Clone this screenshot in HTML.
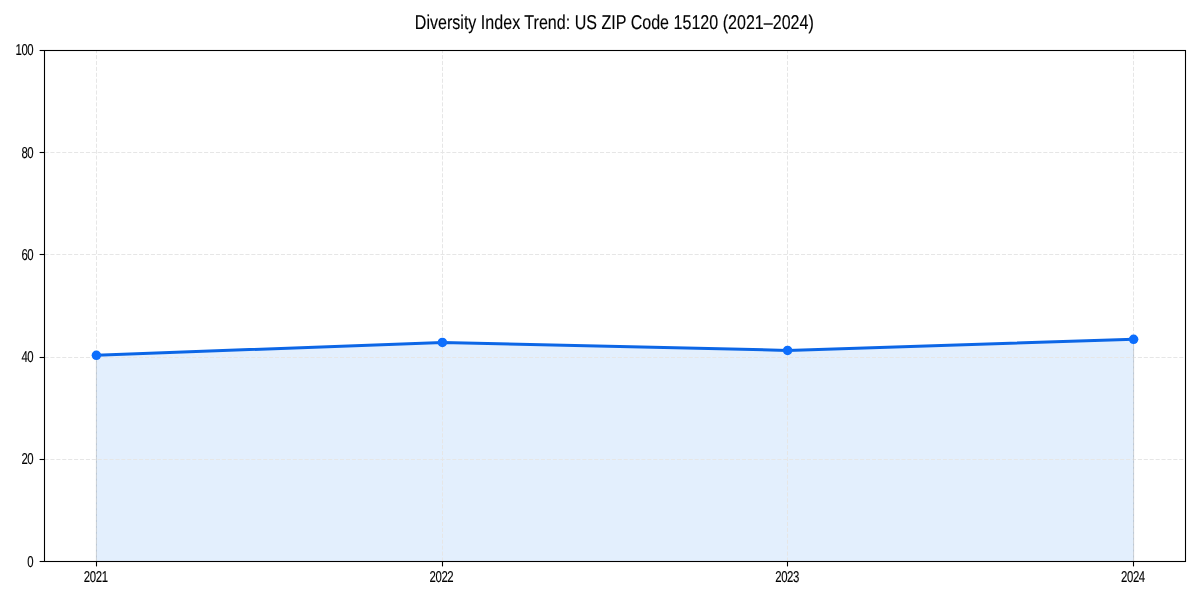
<!DOCTYPE html>
<html><head><meta charset="utf-8"><style>
html,body{margin:0;padding:0;background:#fff;width:1200px;height:600px;overflow:hidden}
svg{display:block}
text{font-family:"Liberation Sans",sans-serif;fill:#000}
g.t{opacity:0.999;text-rendering:geometricPrecision}
</style></head><body>
<svg width="1200" height="600" viewBox="0 0 1200 600">
<polygon points="96.40,561.5 96.40,355.36 442.40,342.38 787.60,350.41 1133.60,339.32 1133.60,561.5" fill="rgba(13,110,240,0.113)" stroke="rgba(60,80,100,0.16)" stroke-width="1.1"/>
<line x1="44.5" y1="561.5" x2="1185.5" y2="561.5" stroke="#e6e6e6" stroke-width="1" stroke-dasharray="4.1 1.81"/>
<line x1="44.5" y1="459.5" x2="1185.5" y2="459.5" stroke="#e6e6e6" stroke-width="1" stroke-dasharray="4.1 1.81"/>
<line x1="44.5" y1="357.5" x2="1185.5" y2="357.5" stroke="#e6e6e6" stroke-width="1" stroke-dasharray="4.1 1.81"/>
<line x1="44.5" y1="254.5" x2="1185.5" y2="254.5" stroke="#e6e6e6" stroke-width="1" stroke-dasharray="4.1 1.81"/>
<line x1="44.5" y1="152.5" x2="1185.5" y2="152.5" stroke="#e6e6e6" stroke-width="1" stroke-dasharray="4.1 1.81"/>
<line x1="44.5" y1="50.5" x2="1185.5" y2="50.5" stroke="#e6e6e6" stroke-width="1" stroke-dasharray="4.1 1.81"/>
<line x1="96.5" y1="561.5" x2="96.5" y2="50.5" stroke="#e6e6e6" stroke-width="1" stroke-dasharray="4.1 1.81"/>
<line x1="442.5" y1="561.5" x2="442.5" y2="50.5" stroke="#e6e6e6" stroke-width="1" stroke-dasharray="4.1 1.81"/>
<line x1="787.5" y1="561.5" x2="787.5" y2="50.5" stroke="#e6e6e6" stroke-width="1" stroke-dasharray="4.1 1.81"/>
<line x1="1133.5" y1="561.5" x2="1133.5" y2="50.5" stroke="#e6e6e6" stroke-width="1" stroke-dasharray="4.1 1.81"/>
<line x1="96.5" y1="355.36" x2="96.5" y2="561.5" stroke="rgba(50,80,110,0.13)" stroke-width="1"/>
<line x1="1133.5" y1="339.32" x2="1133.5" y2="561.5" stroke="rgba(50,80,110,0.13)" stroke-width="1"/>
<polyline points="96.40,355.36 442.40,342.38 787.60,350.41 1133.60,339.32" fill="none" stroke="#0c66e6" stroke-width="3.0" stroke-linejoin="round" stroke-linecap="round"/>
<circle cx="96.4" cy="355.36" r="4.75" fill="#0d6efd"/>
<circle cx="442.4" cy="342.38" r="4.75" fill="#0d6efd"/>
<circle cx="787.6" cy="350.41" r="4.75" fill="#0d6efd"/>
<circle cx="1133.6" cy="339.32" r="4.75" fill="#0d6efd"/>
<rect x="44.5" y="50.5" width="1141.0" height="511.0" fill="none" stroke="#000" stroke-width="1.1"/>
<line x1="39.6" y1="561.5" x2="44.5" y2="561.5" stroke="#000" stroke-width="1.1"/>
<line x1="39.6" y1="459.5" x2="44.5" y2="459.5" stroke="#000" stroke-width="1.1"/>
<line x1="39.6" y1="357.5" x2="44.5" y2="357.5" stroke="#000" stroke-width="1.1"/>
<line x1="39.6" y1="254.5" x2="44.5" y2="254.5" stroke="#000" stroke-width="1.1"/>
<line x1="39.6" y1="152.5" x2="44.5" y2="152.5" stroke="#000" stroke-width="1.1"/>
<line x1="39.6" y1="50.5" x2="44.5" y2="50.5" stroke="#000" stroke-width="1.1"/>
<line x1="96.5" y1="561.5" x2="96.5" y2="566.4" stroke="#000" stroke-width="1.1"/>
<line x1="442.5" y1="561.5" x2="442.5" y2="566.4" stroke="#000" stroke-width="1.1"/>
<line x1="787.5" y1="561.5" x2="787.5" y2="566.4" stroke="#000" stroke-width="1.1"/>
<line x1="1133.5" y1="561.5" x2="1133.5" y2="566.4" stroke="#000" stroke-width="1.1"/>
<g class="t"><text transform="translate(33.28,566.60) scale(0.72,1)" text-anchor="end" font-size="15.8" letter-spacing="-0.55" stroke="#000" stroke-width="0.15">0</text>
<text transform="translate(33.28,464.40) scale(0.72,1)" text-anchor="end" font-size="15.8" letter-spacing="-0.55" stroke="#000" stroke-width="0.15">20</text>
<text transform="translate(33.28,362.20) scale(0.72,1)" text-anchor="end" font-size="15.8" letter-spacing="-0.55" stroke="#000" stroke-width="0.15">40</text>
<text transform="translate(33.28,260.00) scale(0.72,1)" text-anchor="end" font-size="15.8" letter-spacing="-0.55" stroke="#000" stroke-width="0.15">60</text>
<text transform="translate(33.28,157.80) scale(0.72,1)" text-anchor="end" font-size="15.8" letter-spacing="-0.55" stroke="#000" stroke-width="0.15">80</text>
<text transform="translate(33.28,54.60) scale(0.72,1)" text-anchor="end" font-size="15.8" letter-spacing="-0.55" stroke="#000" stroke-width="0.15">100</text>
<text transform="translate(95.70,581.6) scale(0.72,1)" text-anchor="middle" font-size="15.8" letter-spacing="-0.55" stroke="#000" stroke-width="0.15">2021</text>
<text transform="translate(441.40,581.6) scale(0.72,1)" text-anchor="middle" font-size="15.8" letter-spacing="-0.55" stroke="#000" stroke-width="0.15">2022</text>
<text transform="translate(787.10,581.6) scale(0.72,1)" text-anchor="middle" font-size="15.8" letter-spacing="-0.55" stroke="#000" stroke-width="0.15">2023</text>
<text transform="translate(1132.90,581.6) scale(0.72,1)" text-anchor="middle" font-size="15.8" letter-spacing="-0.55" stroke="#000" stroke-width="0.15">2024</text>
<text transform="translate(614.3,28.75) scale(0.808,1)" text-anchor="middle" font-size="19.9" stroke="#000" stroke-width="0.15">Diversity Index Trend: US ZIP Code 15120 (2021–2024)</text></g>
</svg>
</body></html>
